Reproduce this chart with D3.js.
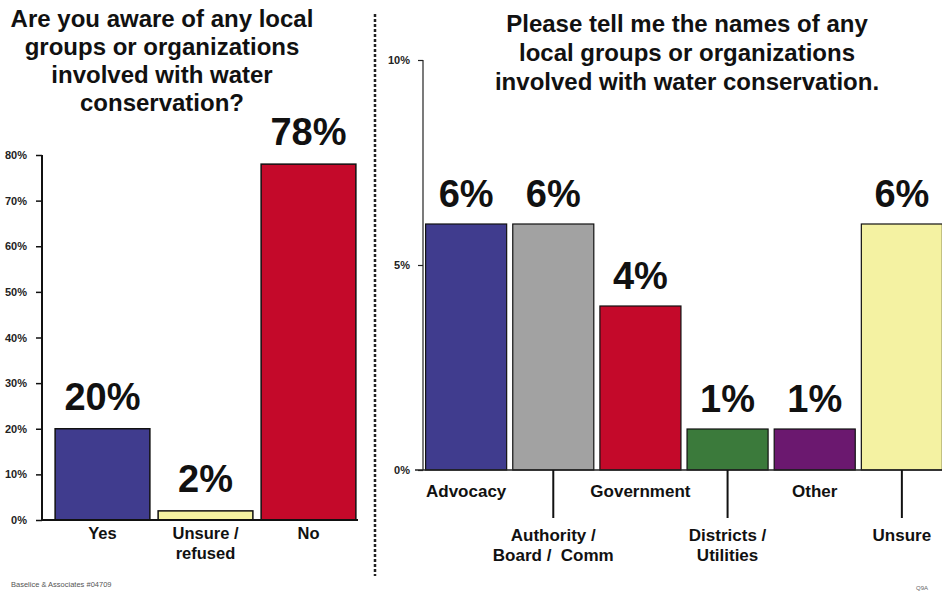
<!DOCTYPE html>
<html>
<head>
<meta charset="utf-8">
<script src="https://cdn.jsdelivr.net/npm/d3@7/dist/d3.min.js"></script>
<style>
  html, body { margin: 0; padding: 0; background: #fff; }
  svg { display: block; font-family: "Liberation Sans", Arial, sans-serif; }
  text.cat { white-space: pre; }
</style>
</head>
<body>
<svg id="chart" width="942" height="594"></svg>
<script>
// Awareness question
const awareCategories = ["Yes", "Unsure /\nrefused", "No"];
const awareValues = [20, 2, 78];
const awareColors = ["#403c8e", "#f4f2a2", "#c4092a"];
const awareTicks = [0, 10, 20, 30, 40, 50, 60, 70, 80];
const awareTitle = ["Are you aware of any local", "groups or organizations", "involved with water", "conservation?"];

// Named organizations
const orgCategories = ["Advocacy", "Authority /\nBoard /  Comm", "Government", "Districts /\nUtilities", "Other", "Unsure"];
const orgValues = [6, 6, 4, 1, 1, 6];
const orgColors = ["#403c8e", "#a2a2a2", "#c4092a", "#3b7a3b", "#6b186f", "#f4f2a2"];
const orgTicks = [0, 5, 10];
const orgTitle = ["Please tell me the names of any", "local groups or organizations", "involved with water conservation."];

const svg = d3.select("#chart");

function drawTitle(lines, cx, y0, step) {
  svg.append("g").selectAll("text").data(lines).join("text")
    .attr("x", cx).attr("y", (d, i) => y0 + i * step)
    .attr("text-anchor", "middle")
    .attr("font-size", 24).attr("font-weight", "bold").attr("fill", "#111")
    .text(d => d);
}

// ---------- left panel ----------
const L = { x0: 42, x1: 358, yTop: 155, yBot: 520 };
const xL = d3.scaleBand().domain(awareCategories).range([51, 360]).paddingInner(0.08).paddingOuter(0.04);
const yL = d3.scaleLinear().domain([0, 80]).range([L.yBot, L.yTop]);

drawTitle(awareTitle, 162, 27, 28);

const gL = svg.append("g");
gL.selectAll("rect").data(awareValues).join("rect")
  .attr("x", (d, i) => xL(awareCategories[i]))
  .attr("y", d => yL(d))
  .attr("width", xL.bandwidth())
  .attr("height", d => yL(0) - yL(d))
  .attr("fill", (d, i) => awareColors[i])
  .attr("stroke", "#111").attr("stroke-width", 1.5);

gL.selectAll("text.val").data(awareValues).join("text").attr("class", "val")
  .attr("x", (d, i) => xL(awareCategories[i]) + xL.bandwidth() / 2)
  .attr("y", d => yL(d) - 19)
  .attr("text-anchor", "middle").attr("font-size", 38).attr("font-weight", "bold").attr("fill", "#111")
  .text(d => d + "%");

const axL = svg.append("g").attr("transform", `translate(${L.x0},0)`)
  .call(d3.axisLeft(yL).tickValues(awareTicks).tickFormat(d => d + "%").tickSize(6).tickPadding(9));
axL.select(".domain").attr("d", `M0,${L.yTop}V${L.yBot}`).attr("stroke", "#111").attr("stroke-width", 2);
axL.selectAll(".tick line").attr("stroke", "#111").attr("stroke-width", 1.5);
axL.selectAll(".tick text").attr("font-size", 11).attr("font-weight", "bold").attr("fill", "#222")
  .attr("font-family", "Liberation Sans, Arial, sans-serif");

svg.append("line").attr("x1", L.x0).attr("x2", L.x1).attr("y1", L.yBot).attr("y2", L.yBot)
  .attr("stroke", "#111").attr("stroke-width", 2);

awareCategories.forEach((c, i) => {
  const t = svg.append("text").attr("class", "cat").attr("text-anchor", "middle")
    .attr("font-size", 16.5).attr("font-weight", "bold").attr("fill", "#111");
  c.split("\n").forEach((s, j) => {
    t.append("tspan").attr("x", xL(c) + xL.bandwidth() / 2).attr("y", 539 + j * 20).text(s);
  });
});

// ---------- divider ----------
svg.append("line").attr("x1", 375).attr("x2", 375).attr("y1", 14).attr("y2", 576)
  .attr("stroke", "#222").attr("stroke-width", 2.5).attr("stroke-dasharray", "3,2");

// ---------- right panel ----------
const R = { x0: 423, x1: 942, yTop: 60, yBot: 470 };
const xR = d3.scaleBand().domain(orgCategories).range([R.x0, R.x0 + 6 * 87]).paddingInner(0.07).paddingOuter(0.03);
const yR = d3.scaleLinear().domain([0, 10]).range([R.yBot, R.yTop]);

drawTitle(orgTitle, 687, 32, 29);

const gR = svg.append("g");
gR.selectAll("rect").data(orgValues).join("rect")
  .attr("x", (d, i) => xR(orgCategories[i]))
  .attr("y", d => yR(d))
  .attr("width", xR.bandwidth())
  .attr("height", d => yR(0) - yR(d))
  .attr("fill", (d, i) => orgColors[i])
  .attr("stroke", "#111").attr("stroke-width", 1.2);

gR.selectAll("text.val").data(orgValues).join("text").attr("class", "val")
  .attr("x", (d, i) => xR(orgCategories[i]) + xR.bandwidth() / 2)
  .attr("y", d => yR(d) - 17)
  .attr("text-anchor", "middle").attr("font-size", 38).attr("font-weight", "bold").attr("fill", "#111")
  .text(d => d + "%");

const axR = svg.append("g").attr("transform", `translate(${R.x0},0)`)
  .call(d3.axisLeft(yR).tickValues(orgTicks).tickFormat(d => d + "%").tickSize(5).tickPadding(8));
axR.select(".domain").attr("d", `M0,${R.yTop}V${R.yBot}`).attr("stroke", "#222").attr("stroke-width", 1.2);
axR.selectAll(".tick line").attr("stroke", "#222").attr("stroke-width", 1.2);
axR.selectAll(".tick text").attr("font-size", 11).attr("font-weight", "bold").attr("fill", "#222")
  .attr("font-family", "Liberation Sans, Arial, sans-serif");

svg.append("line").attr("x1", R.x0 - 8).attr("x2", R.x1).attr("y1", R.yBot).attr("y2", R.yBot)
  .attr("stroke", "#222").attr("stroke-width", 1.5);

orgCategories.forEach((c, i) => {
  const cx = xR(c) + xR.bandwidth() / 2;
  const low = i % 2 === 1;
  if (low) {
    svg.append("line").attr("x1", cx).attr("x2", cx).attr("y1", R.yBot).attr("y2", 518)
      .attr("stroke", "#111").attr("stroke-width", 2);
  }
  const t = svg.append("text").attr("class", "cat").attr("text-anchor", "middle")
    .attr("font-size", 17).attr("font-weight", "bold").attr("fill", "#111");
  c.split("\n").forEach((s, j) => {
    t.append("tspan").attr("x", cx).attr("y", (low ? 541 : 497) + j * 20).text(s);
  });
});

// ---------- footer ----------
svg.append("text").attr("x", 11).attr("y", 587).attr("font-size", 7.5).attr("fill", "#555")
  .text("Baselice & Associates #04709");
svg.append("text").attr("x", 928).attr("y", 590).attr("text-anchor", "end").attr("font-size", 6).attr("fill", "#666")
  .text("Q9A");
</script>
</body>
</html>
